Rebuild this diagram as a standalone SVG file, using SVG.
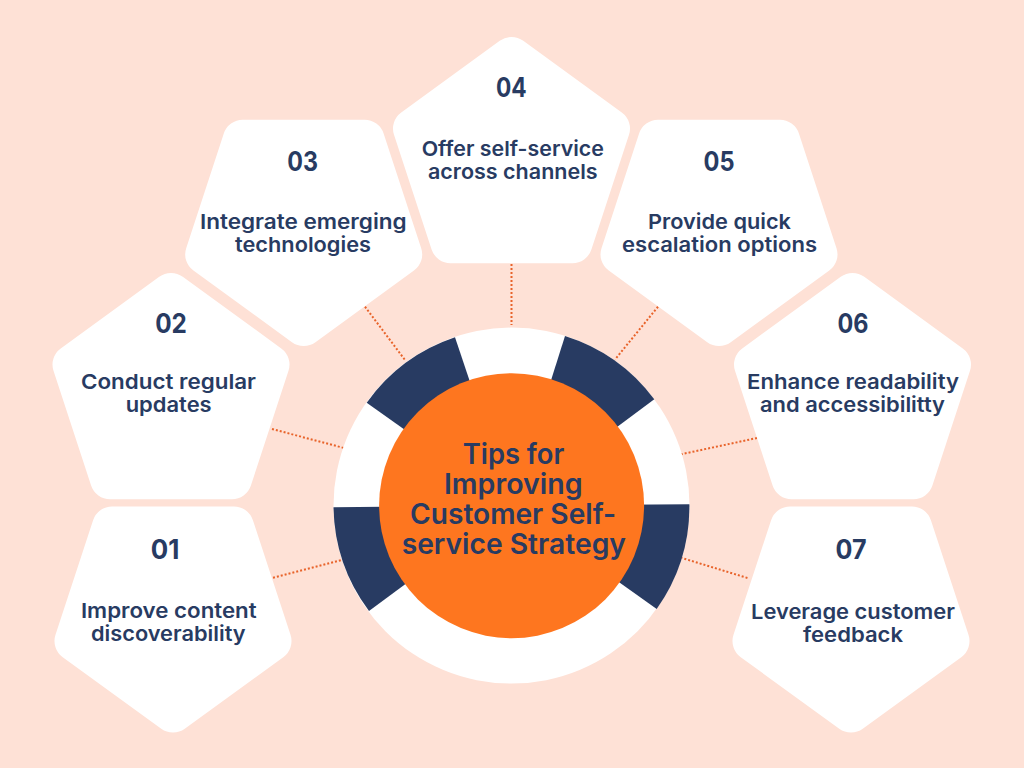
<svg xmlns="http://www.w3.org/2000/svg" width="1024" height="768" viewBox="0 0 1024 768">
<style>
.bg{fill:#fee1d6}
.p{fill:#fff;stroke:#fff;stroke-width:40;stroke-linejoin:round}
.c{stroke:#e8632a;stroke-width:2;stroke-dasharray:2 2;fill:none}
.navy{fill:#283b62}
text{fill:#283b62;font-family:"Inter","Liberation Sans",sans-serif;font-weight:600;text-anchor:middle}
.n{font-size:27px;font-weight:700}
.t{font-size:20.5px}
.h{font-size:28px}
</style>
<defs>
<polygon id="up" class="p" points="0,-103.6 98.5,-32 60.9,82.6 -60.9,82.6 -98.5,-32"/>
<polygon id="dn" class="p" points="0,103.6 98.5,32 60.9,-82.6 -60.9,-82.6 -98.5,32"/>
</defs>
<rect class="bg" width="1024" height="768"/>
<g id="connectors">
<line class="c" x1="511.5" y1="264" x2="511.5" y2="325"/>
<line class="c" x1="365" y1="306.7" x2="405" y2="360"/>
<line class="c" x1="658" y1="306.7" x2="615" y2="359.5"/>
<line class="c" x1="272" y1="429" x2="344" y2="448"/>
<line class="c" x1="273" y1="577.7" x2="342" y2="560"/>
<line class="c" x1="757" y1="438" x2="680" y2="454.5"/>
<line class="c" x1="680.5" y1="557.5" x2="747.5" y2="578"/>
</g>
<g id="node-01"><use href="#dn" x="173" y="609"/>
<text class="n" x="165" y="558.5" textLength="28.6" lengthAdjust="spacingAndGlyphs">01</text>
<text class="t"><tspan x="168.8" y="618.3" textLength="175.7" lengthAdjust="spacingAndGlyphs">Improve content</tspan><tspan x="168.3" y="641" textLength="154.7" lengthAdjust="spacingAndGlyphs">discoverability</tspan></text></g>
<g id="node-02"><use href="#up" x="171" y="396.6"/>
<text class="n" x="171" y="332.7" textLength="31.7" lengthAdjust="spacingAndGlyphs">02</text>
<text class="t"><tspan x="168.5" y="389.3" textLength="175" lengthAdjust="spacingAndGlyphs">Conduct regular</tspan><tspan x="168.7" y="412" textLength="86" lengthAdjust="spacingAndGlyphs">updates</tspan></text></g>
<g id="node-03"><use href="#dn" x="303.7" y="222.4"/>
<text class="n" x="302.7" y="170.7" textLength="30.7" lengthAdjust="spacingAndGlyphs">03</text>
<text class="t"><tspan x="303.3" y="229.3" textLength="206.7" lengthAdjust="spacingAndGlyphs">Integrate emerging</tspan><tspan x="303" y="251.7" textLength="136" lengthAdjust="spacingAndGlyphs">technologies</tspan></text></g>
<g id="node-04"><use href="#up" x="511.5" y="160.6"/>
<text class="n" x="511.3" y="96.7" textLength="30.7" lengthAdjust="spacingAndGlyphs">04</text>
<text class="t"><tspan x="512.8" y="156" textLength="182.3" lengthAdjust="spacingAndGlyphs">Offer self-service</tspan><tspan x="512.8" y="178.7" textLength="169.7" lengthAdjust="spacingAndGlyphs">across channels</tspan></text></g>
<g id="node-05"><use href="#dn" x="719" y="222.4"/>
<text class="n" x="719" y="170.7" textLength="31" lengthAdjust="spacingAndGlyphs">05</text>
<text class="t"><tspan x="719.5" y="229.3" textLength="143" lengthAdjust="spacingAndGlyphs">Provide quick</tspan><tspan x="719.5" y="252" textLength="195" lengthAdjust="spacingAndGlyphs">escalation options</tspan></text></g>
<g id="node-06"><use href="#up" x="852.5" y="396.6"/>
<text class="n" x="853" y="332.7" textLength="31" lengthAdjust="spacingAndGlyphs">06</text>
<text class="t"><tspan x="853" y="389.3" textLength="212" lengthAdjust="spacingAndGlyphs">Enhance readability</tspan><tspan x="852.5" y="412" textLength="185" lengthAdjust="spacingAndGlyphs">and accessibilitty</tspan></text></g>
<g id="node-07"><use href="#dn" x="851" y="609"/>
<text class="n" x="851" y="558.5" textLength="31" lengthAdjust="spacingAndGlyphs">07</text>
<text class="t"><tspan x="853" y="618.7" textLength="204" lengthAdjust="spacingAndGlyphs">Leverage customer</tspan><tspan x="853" y="641.5" textLength="100" lengthAdjust="spacingAndGlyphs">feedback</tspan></text></g>
<g id="hub">
<circle cx="511.5" cy="505.6" r="178" fill="#fff"/>
<path class="navy" d="M511.5 505.6L455 337.3A178 178 0 0 0 366.7 402.7Z"/>
<path class="navy" d="M511.5 505.6L565 336A178 178 0 0 1 654.3 399.3Z"/>
<path class="navy" d="M511.5 505.6L689.4 504.3A178 178 0 0 1 656.7 609Z"/>
<path class="navy" d="M511.5 505.6L333.5 507.3A178 178 0 0 0 369 611Z"/>
<circle cx="511.6" cy="505.7" r="132.5" fill="#fe761f"/>
<text class="h"><tspan x="513.5" y="464" textLength="101.6" lengthAdjust="spacingAndGlyphs">Tips for</tspan><tspan x="513.3" y="494" textLength="138.7" lengthAdjust="spacingAndGlyphs">Improving</tspan><tspan x="513" y="524" textLength="206" lengthAdjust="spacingAndGlyphs">Customer Self-</tspan><tspan x="513.8" y="554" textLength="224.3" lengthAdjust="spacingAndGlyphs">service Strategy</tspan></text>
</g>
</svg>
